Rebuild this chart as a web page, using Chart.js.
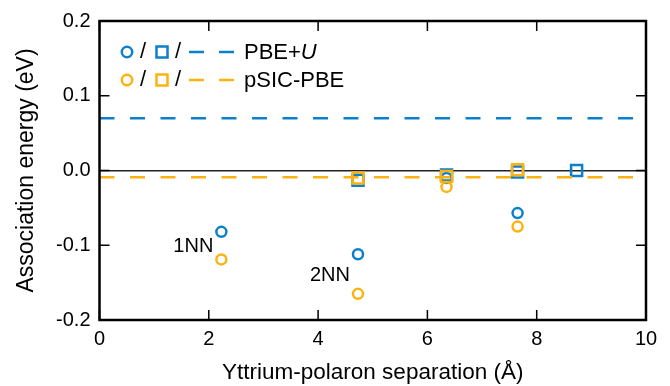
<!DOCTYPE html>
<html>
<head>
<meta charset="utf-8">
<script src="https://cdn.jsdelivr.net/npm/chart.js@4.4.1/dist/chart.umd.min.js"></script>
<style>
  html, body { margin: 0; padding: 0; background: #fff; }
  #wrap { width: 670px; height: 386px; }
</style>
</head>
<body>
<div id="wrap"><canvas id="chart"></canvas></div>
<script>
// Association energies
const xCircles = [2.23, 4.73, 6.35, 7.65];
const pbeCircles = [-0.082, -0.112, -0.010, -0.057];
const psicCircles = [-0.119, -0.165, -0.022, -0.075];

const xSquares = [4.73, 6.35, 7.65, 8.73];
const pbeSquares = [-0.013, -0.006, -0.002, 0.000];
const psicSquares = [-0.010, -0.008, 0.001];

const xRange = [0, 10];
const pbeRef = 0.07;
const psicRef = -0.009;

const xTicks = [0, 2, 4, 6, 8, 10];
const yTicks = [-0.2, -0.1, 0.0, 0.1, 0.2];

// label anchors (x, y) for the neighbour annotations
const nnLabels = ['1NN', '2NN'];
const nnX = [2.23, 4.73];
const nnY = [-0.1017, -0.141];

const BLUE = '#0b80cc';
const ORANGE = '#fdb212';
const FONT = '"Liberation Sans", Arial, sans-serif';

const pts = (xs, ys) => ys.map((y, i) => ({ x: xs[i], y: y }));
const hline = (y) => xRange.map(x => ({ x: x, y: y }));

// frame, inward ticks, labels and the legend
const decorPlugin = {
    id: 'decor',
    afterDraw(chart) {
        const ctx = chart.ctx;
        const a = chart.chartArea;
        const sx = chart.scales.x, sy = chart.scales.y;
        ctx.save();
        ctx.strokeStyle = '#000';
        ctx.lineWidth = 1.5;
        const tl = 10;
        xTicks.forEach(v => {
            const px = sx.getPixelForValue(v);
            ctx.beginPath();
            ctx.moveTo(px, a.bottom); ctx.lineTo(px, a.bottom - tl);
            ctx.moveTo(px, a.top); ctx.lineTo(px, a.top + tl);
            ctx.stroke();
        });
        yTicks.forEach(v => {
            const py = sy.getPixelForValue(v);
            ctx.beginPath();
            ctx.moveTo(a.left, py); ctx.lineTo(a.left + tl, py);
            ctx.moveTo(a.right, py); ctx.lineTo(a.right - tl, py);
            ctx.stroke();
        });
        ctx.lineWidth = 2.5;
        ctx.strokeRect(a.left, a.top, a.right - a.left, a.bottom - a.top);

        // 1NN / 2NN
        ctx.fillStyle = '#000';
        ctx.font = '20px ' + FONT;
        ctx.textAlign = 'right';
        ctx.textBaseline = 'middle';
        nnLabels.forEach((t, i) => {
            ctx.fillText(t, sx.getPixelForValue(nnX[i]) - 8, sy.getPixelForValue(nnY[i]));
        });

        // legend
        const rows = [
            { color: BLUE, text: 'PBE+', italic: 'U', y: 52 },
            { color: ORANGE, text: 'pSIC-PBE', italic: '', y: 80 }
        ];
        rows.forEach(r => {
            ctx.strokeStyle = r.color;
            ctx.lineWidth = 2.5;
            ctx.beginPath();
            ctx.arc(127, r.y, 5.2, 0, Math.PI * 2);
            ctx.stroke();
            ctx.strokeRect(156.5, r.y - 5.5, 11, 11);
            ctx.beginPath();
            ctx.moveTo(189, r.y); ctx.lineTo(204, r.y);
            ctx.moveTo(219, r.y); ctx.lineTo(234, r.y);
            ctx.stroke();
            ctx.fillStyle = '#000';
            ctx.font = '22px ' + FONT;
            ctx.textAlign = 'center';
            ctx.fillText('/', 143, r.y);
            ctx.fillText('/', 178, r.y);
            ctx.textAlign = 'left';
            ctx.fillText(r.text, 244, r.y + 1);
            if (r.italic) {
                const w = ctx.measureText(r.text).width;
                ctx.font = 'italic 22px ' + FONT;
                ctx.fillText(r.italic, 244 + w, r.y + 1);
            }
        });
        ctx.restore();
    }
};

const ctx = document.getElementById('chart').getContext('2d');
new Chart(ctx, {
    type: 'scatter',
    data: {
        datasets: [
            { type: 'line', data: hline(psicRef), borderColor: ORANGE, borderWidth: 2.5,
              borderDash: [15, 15.5], pointRadius: 0, fill: false },
            { type: 'line', data: hline(pbeRef), borderColor: BLUE, borderWidth: 2.5,
              borderDash: [15, 15.5], pointRadius: 0, fill: false },
            { data: pts(xCircles, psicCircles), pointStyle: 'circle', radius: 5,
              borderColor: ORANGE, backgroundColor: 'rgba(0,0,0,0)', borderWidth: 2.5 },
            { data: pts(xSquares, psicSquares), pointStyle: 'rect', radius: 7.8,
              borderColor: ORANGE, backgroundColor: 'rgba(0,0,0,0)', borderWidth: 2.5 },
            { data: pts(xCircles, pbeCircles), pointStyle: 'circle', radius: 5,
              borderColor: BLUE, backgroundColor: 'rgba(0,0,0,0)', borderWidth: 2.5 },
            { data: pts(xSquares, pbeSquares), pointStyle: 'rect', radius: 7.8,
              borderColor: BLUE, backgroundColor: 'rgba(0,0,0,0)', borderWidth: 2.5 }
        ]
    },
    options: {
        responsive: true,
        maintainAspectRatio: false,
        animation: false,
        layout: { padding: { top: 21, right: 24, left: 0, bottom: 0 } },
        plugins: { legend: { display: false }, tooltip: { enabled: false } },
        scales: {
            x: {
                type: 'linear', min: 0, max: 10,
                afterFit: (s) => { s.height = 66; },
                afterBuildTicks: (s) => { s.ticks = xTicks.map(v => ({ value: v })); },
                grid: { display: false, drawTicks: false },
                border: { display: false },
                ticks: { color: '#000', padding: 7, font: { family: FONT, size: 20 } },
                title: { display: true, text: 'Yttrium-polaron separation (Å)', color: '#000',
                         padding: { top: 0, bottom: 0 }, font: { family: FONT, size: 22.5 } }
            },
            y: {
                type: 'linear', min: -0.2, max: 0.2,
                afterFit: (s) => { s.width = 99.5; },
                afterBuildTicks: (s) => { s.ticks = yTicks.map(v => ({ value: v })); },
                grid: {
                    drawTicks: false,
                    color: (c) => (c.tick && Math.abs(c.tick.value) < 1e-9) ? '#222' : 'rgba(0,0,0,0)',
                    lineWidth: 1.5
                },
                border: { display: false },
                ticks: { color: '#000', padding: 9, font: { family: FONT, size: 20 },
                         callback: (v) => v.toFixed(1) },
                title: { display: true, text: 'Association energy (eV)', color: '#000',
                         padding: { top: 13, bottom: 0 }, font: { family: FONT, size: 23 } }
            }
        }
    },
    plugins: [decorPlugin]
});
</script>
</body>
</html>
